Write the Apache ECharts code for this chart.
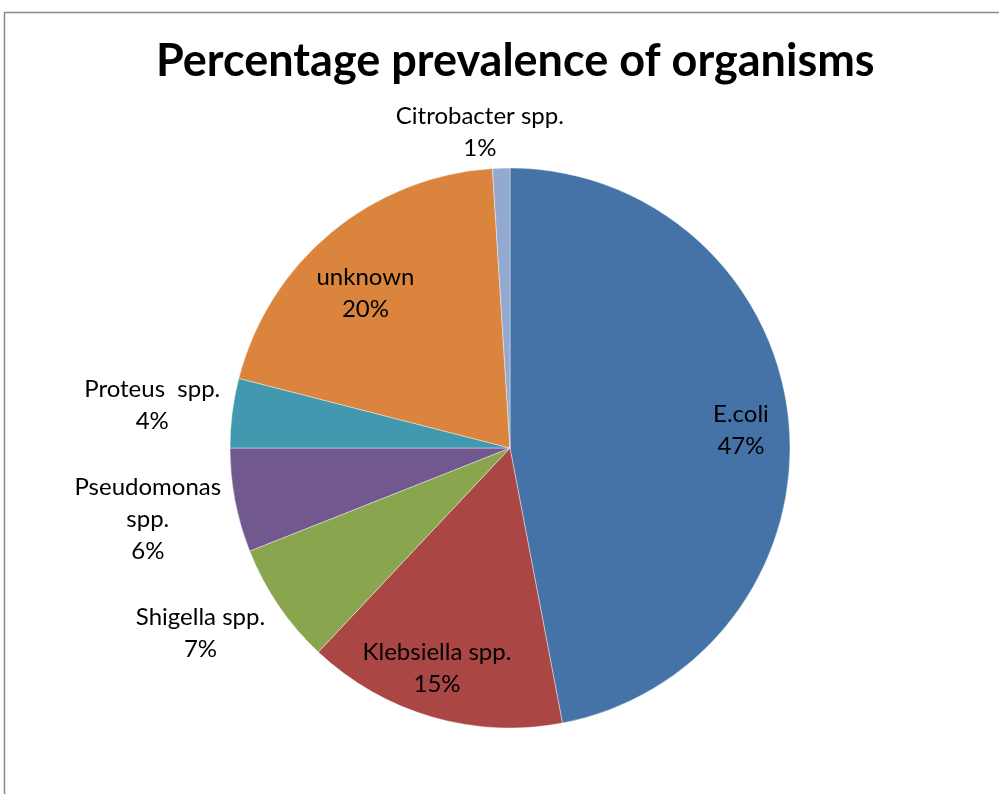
<!DOCTYPE html>
<html>
<head>
<meta charset="utf-8">
<script src="https://cdn.jsdelivr.net/npm/echarts@6/dist/echarts.min.js"></script>
<style>
  html, body { margin: 0; padding: 0; background: #fff; }
  #chart { width: 999px; height: 794px; }
</style>
</head>
<body>
<div id="chart"></div>
<script>
// organisms, clockwise from 12 o'clock
const categories = ['E.coli', 'Klebsiella spp.', 'Shigella spp.', 'Pseudomonas spp.', 'Proteus  spp.', 'unknown', 'Citrobacter spp.']
const values = [47, 15, 7, 6, 4, 20, 1]
const colors = ['#4572a7', '#aa4643', '#89a54e', '#71588f', '#4198af', '#db843d', '#93a9cf']
// which labels sit inside the slice
const insideLabel = [true, true, false, false, false, true, false]

const FONT = 'Lato, "Open Sans", sans-serif'
const CX = 510
const CY = 448
const R = 280
// small nudges so labels land where excel put them
const nudge = [[-1, 4], [-8, -3], [0, 22], [1, 17], [3, -6], [4, 25], [68, -26]]

const labelText = (p) => {
  const name = p.name === 'Pseudomonas spp.' ? 'Pseudomonas\nspp.' : p.name
  return name + '\n' + p.value + '%'
}

const baseLabel = {
  color: '#000',
  fontFamily: FONT,
  fontSize: 24,
  lineHeight: 32,
  align: 'center',
  formatter: labelText,
}

const placeLabel = (params) => {
  const r = params.labelRect
  const d = nudge[params.dataIndex]
  return {
    x: r.x + r.width / 2 + d[0],
    y: r.y + r.height / 2 + d[1],
    align: 'center',
    verticalAlign: 'middle',
  }
}

const pieData = categories.map((name, i) => ({
  name,
  value: values[i],
  itemStyle: { color: colors[i] },
  label: { show: !insideLabel[i] },
}))

const overlayData = categories.map((name, i) => ({
  name,
  value: values[i],
  label: { show: insideLabel[i] },
}))

const chart = echarts.init(document.getElementById('chart'), null, { renderer: 'canvas' })
chart.setOption({
  animation: false,
  backgroundColor: '#fff',
  title: {
    text: 'Percentage prevalence of organisms',
    left: 151,
    top: 34,
    textStyle: { fontFamily: FONT, fontWeight: 'bold', fontSize: 45, color: '#000' },
  },
  graphic: [
    {
      type: 'rect',
      shape: { x: 4.5, y: 12.5, width: 1100, height: 900 },
      style: { fill: 'none', stroke: '#8a8a8a', lineWidth: 1.5 },
      silent: true,
    },
  ],
  series: [
    {
      type: 'pie',
      center: [CX, CY],
      radius: R,
      startAngle: 90,
      clockwise: true,
      silent: true,
      itemStyle: { borderColor: 'rgba(255,255,255,0.5)', borderWidth: 0.8 },
      label: Object.assign({ position: 'outside' }, baseLabel),
      labelLine: { show: false, length: 10, length2: 0 },
      labelLayout: placeLabel,
      data: pieData,
    },
    {
      // transparent ring only to place the inner labels near the rim
      type: 'pie',
      center: [CX, CY],
      radius: [180, R],
      startAngle: 90,
      clockwise: true,
      silent: true,
      itemStyle: { color: 'rgba(0,0,0,0)' },
      label: Object.assign({ position: 'inside' }, baseLabel),
      labelLine: { show: false },
      labelLayout: placeLabel,
      data: overlayData,
    },
  ],
})
</script>
</body>
</html>
